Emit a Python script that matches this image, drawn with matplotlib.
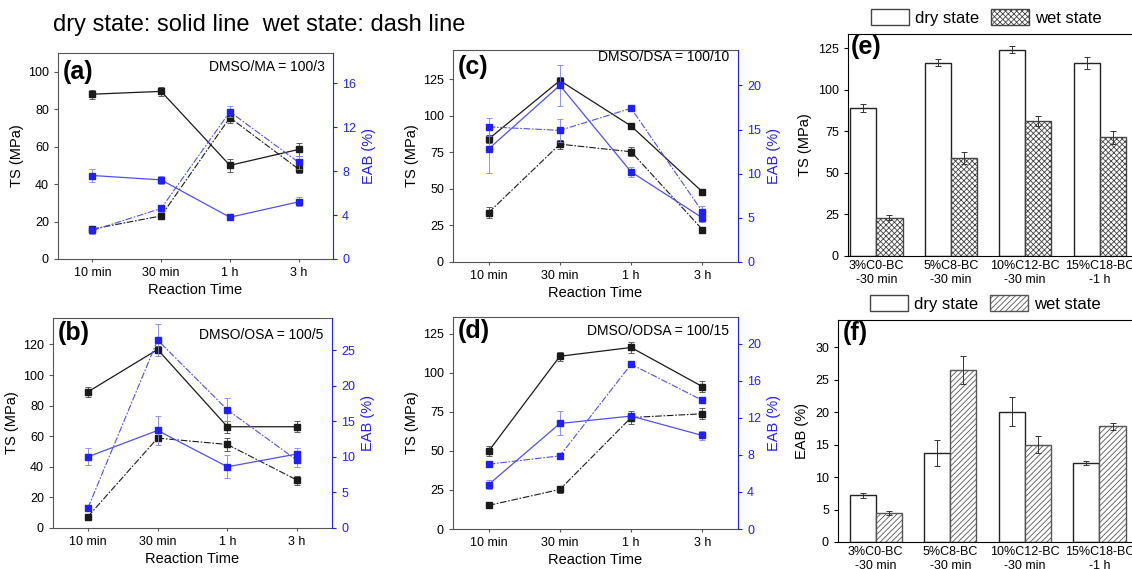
import numpy as np
import matplotlib
matplotlib.use('Agg')
import matplotlib.pyplot as plt
from matplotlib.patches import Patch

plt.rcParams['font.family'] = ['Liberation Sans', 'DejaVu Sans']
plt.rcParams['hatch.linewidth'] = 0.6

times = ['10 min', '30 min', '1 h', '3 h']

# (a) DMSO/MA = 100/3
a_ts_dry = [88, 89.5, 50, 58.5]
a_ts_dry_err = [2.5, 2.5, 3.5, 3.5]
a_ts_wet = [16, 23, 75.5, 48]
a_ts_wet_err = [1.5, 1.5, 3, 2]
a_eab_dry = [7.6, 7.2, 3.8, 5.2]
a_eab_dry_err = [0.6, 0.4, 0.2, 0.4]
a_eab_wet = [2.6, 4.6, 13.4, 8.8]
a_eab_wet_err = [0.3, 0.3, 0.5, 0.6]

# (b) DMSO/OSA = 100/5
b_ts_dry = [89, 116.7, 66.2, 66.2]
b_ts_dry_err = [3.5, 2, 4, 3.5]
b_ts_wet = [7.4, 58.8, 54.6, 31.3]
b_ts_wet_err = [1.5, 2, 4, 3]
b_eab_dry = [10.0, 13.7, 8.6, 10.4]
b_eab_dry_err = [1.2, 2, 1.6, 0.8]
b_eab_wet = [2.8, 26.4, 16.6, 9.5]
b_eab_wet_err = [0.3, 2.3, 1.6, 1]

# (c) DMSO/DSA = 100/10
c_ts_dry = [84.1, 124.1, 93, 48]
c_ts_dry_err = [2.5, 2.5, 1.5, 1.5]
c_ts_wet = [33.8, 80.6, 75.4, 22.2]
c_ts_wet_err = [4, 3, 3, 1.5]
c_eab_dry = [12.8, 20.0, 10.2, 5.0]
c_eab_dry_err = [2.7, 2.3, 0.6, 0.5]
c_eab_wet = [15.3, 14.9, 17.4, 5.7]
c_eab_wet_err = [1, 1.3, 0.3, 0.6]

# (d) DMSO/ODSA = 100/15
d_ts_dry = [49.8, 110.5, 116.1, 91.1]
d_ts_dry_err = [3, 3, 3.5, 3.5]
d_ts_wet = [15.1, 25.3, 71.3, 73.7]
d_ts_wet_err = [1.5, 2, 4, 3.5]
d_eab_dry = [4.8, 11.4, 12.2, 10.1]
d_eab_dry_err = [0.5, 1.3, 0.3, 0.5]
d_eab_wet = [7.0, 7.9, 17.8, 13.9]
d_eab_wet_err = [0.2, 0.2, 0.2, 0.3]

# (e), (f) bar charts
samples = ['3%C0-BC\n-30 min', '5%C8-BC\n-30 min', '10%C12-BC\n-30 min', '15%C18-BC\n-1 h']
e_ts_dry = [89.2, 116.5, 124.3, 116.1]
e_ts_dry_err = [2.5, 2, 2, 3.5]
e_ts_wet = [23.1, 59, 81.1, 71.5]
e_ts_wet_err = [1.5, 3.5, 3, 4]
f_eab_dry = [7.2, 13.7, 20.1, 12.2]
f_eab_dry_err = [0.4, 2, 2.2, 0.3]
f_eab_wet = [4.5, 26.5, 15.0, 17.8]
f_eab_wet_err = [0.3, 2.2, 1.3, 0.5]

W, H = 1132, 569
fig = plt.figure(figsize=(W / 100, H / 100), dpi=100)

BLACK = '#1a1a1a'
BLUE = '#2020ff'
BLUE_LINE = '#5050f0'
SPINE = '#555555'
DASH = (0, (6, 1.5, 1.5, 1.5))


def rect(l, t, r, b):
    return [l / W, 1 - b / H, (r - l) / W, (b - t) / H]


def line_panel(box, tag, note, ts, eab, ts_lim, ts_ticks, eab_lim, eab_ticks, tag_y, note_y):
    ax = fig.add_axes(box)
    x = np.arange(len(times))
    (td, tde), (tw, twe) = ts
    (ed, ede), (ew, ewe) = eab
    ax.errorbar(x, td, yerr=tde, color=BLACK, lw=0.9, marker='s', ms=4,
                ecolor='#444444', elinewidth=0.6, capsize=2, capthick=0.6)
    ax.errorbar(x, tw, yerr=twe, color=BLACK, lw=0.8, ls=DASH, marker='s', ms=4,
                ecolor='#444444', elinewidth=0.6, capsize=2, capthick=0.6)
    ax.set_xlim(-0.5, 3.5)
    ax.set_ylim(*ts_lim)
    ax.set_yticks(ts_ticks)
    ax.set_xticks(x)
    ax.set_xticklabels(times)
    ax.tick_params(labelsize=9, direction='out', length=3, color=SPINE)
    ax.tick_params(axis='x', length=2)
    ax.set_ylabel('TS (MPa)', fontsize=10.5, labelpad=3)
    ax.set_xlabel('Reaction Time', fontsize=10.5, labelpad=3)
    for s in ['left', 'bottom', 'top']:
        ax.spines[s].set_color(SPINE)
    ax.spines['right'].set_visible(False)

    ax2 = ax.twinx()
    ax2.errorbar(x, ed, yerr=ede, color=BLUE_LINE, lw=0.9, marker='s', ms=4, mfc=BLUE, mec=BLUE,
                 ecolor='#8080ff', elinewidth=0.6, capsize=2, capthick=0.6)
    ax2.errorbar(x, ew, yerr=ewe, color=BLUE_LINE, lw=0.8, ls=DASH, marker='s', ms=4, mfc=BLUE, mec=BLUE,
                 ecolor='#8080ff', elinewidth=0.6, capsize=2, capthick=0.6)
    ax2.set_ylim(*eab_lim)
    ax2.set_yticks(eab_ticks)
    ax2.tick_params(labelsize=9, direction='out', length=3, colors=BLUE)
    ax2.set_ylabel('EAB (%)', fontsize=10.5, color=BLUE, labelpad=4)
    ax2.spines['right'].set_color(BLUE)
    for s in ['left', 'bottom', 'top']:
        ax2.spines[s].set_visible(False)

    ax.text(0.018, tag_y, tag, transform=ax.transAxes, ha='left', va='top',
            fontsize=18, fontweight='bold')
    ax.text(0.97, note_y, note, transform=ax.transAxes, ha='right', va='center', fontsize=10)
    return ax


line_panel(rect(58, 53, 333, 259), '(a)', 'DMSO/MA = 100/3',
           [(a_ts_dry, a_ts_dry_err), (a_ts_wet, a_ts_wet_err)],
           [(a_eab_dry, a_eab_dry_err), (a_eab_wet, a_eab_wet_err)],
           (0, 110), range(0, 101, 20), (0, 18.75), range(0, 17, 4), 0.965, 0.93)

line_panel(rect(53, 318, 332, 528), '(b)', 'DMSO/OSA = 100/5',
           [(b_ts_dry, b_ts_dry_err), (b_ts_wet, b_ts_wet_err)],
           [(b_eab_dry, b_eab_dry_err), (b_eab_wet, b_eab_wet_err)],
           (0, 137.3), range(0, 121, 20), (0, 29.5), range(0, 26, 5), 0.985, 0.92)

line_panel(rect(453, 50, 738, 262), '(c)', 'DMSO/DSA = 100/10',
           [(c_ts_dry, c_ts_dry_err), (c_ts_wet, c_ts_wet_err)],
           [(c_eab_dry, c_eab_dry_err), (c_eab_wet, c_eab_wet_err)],
           (0, 145), range(0, 126, 25), (0, 24), range(0, 21, 5), 0.975, 0.965)

line_panel(rect(453, 317, 738, 529), '(d)', 'DMSO/ODSA = 100/15',
           [(d_ts_dry, d_ts_dry_err), (d_ts_wet, d_ts_wet_err)],
           [(d_eab_dry, d_eab_dry_err), (d_eab_wet, d_eab_wet_err)],
           (0, 135.6), range(0, 126, 25), (0, 22.9), range(0, 21, 4), 0.99, 0.935)


def bar_panel(box, tag, dry, dry_err, wet, wet_err, ylabel, ylim, ticks, xlim, wet_style, leg_x, tag_x):
    ax = fig.add_axes(box)
    x = np.arange(len(samples))
    w = 0.35
    ax.bar(x - w / 2, dry, w, yerr=dry_err, color='white', edgecolor='#222222', lw=1,
           error_kw=dict(ecolor='#333333', elinewidth=0.7, capsize=2, capthick=0.7))
    ax.bar(x + w / 2, wet, w, yerr=wet_err, color='white', edgecolor=wet_style[1],
           hatch=wet_style[0], lw=1,
           error_kw=dict(ecolor='#333333', elinewidth=0.7, capsize=2, capthick=0.7))
    ax.set_xlim(*xlim)
    ax.set_ylim(*ylim)
    ax.set_yticks(ticks)
    ax.set_xticks(x)
    ax.set_xticklabels(samples, linespacing=1.25)
    ax.tick_params(labelsize=9, direction='out', length=3)
    ax.tick_params(axis='x', length=0, pad=3)
    ax.set_ylabel(ylabel, fontsize=10.5, labelpad=4)
    ax.text(tag_x, 0.995, tag, transform=ax.transAxes, ha='left', va='top',
            fontsize=18, fontweight='bold')
    handles = [Patch(facecolor='white', edgecolor='#444444', lw=1),
               Patch(facecolor='white', edgecolor=wet_style[1], hatch=wet_style[0], lw=1)]
    ax.legend(handles, ['dry state', 'wet state'], loc='lower center', bbox_to_anchor=(leg_x, 1.0),
              ncol=2, frameon=False, fontsize=12, handlelength=2.3, handleheight=1.1,
              handletextpad=0.35, columnspacing=0.7, borderaxespad=0.1)
    return ax


bar_panel(rect(848, 34, 1136, 256), '(e)', e_ts_dry, e_ts_dry_err, e_ts_wet, e_ts_wet_err,
          'TS (MPa)', (0, 133.7), range(0, 126, 25), (-0.383, 3.49), ('xxxxxx', '#444444'), 0.48, 0.008)
bar_panel(rect(838, 320, 1136, 542), '(f)', f_eab_dry, f_eab_dry_err, f_eab_wet, f_eab_wet_err,
          'EAB (%)', (0, 34.2), range(0, 31, 5), (-0.507, 3.49), ('//////', '#555555'), 0.495, 0.017)

fig.text(53 / W, 1 - 25 / H, 'dry state: solid line  wet state: dash line', fontsize=17,
         ha='left', va='center')

fig.savefig('out.png', dpi=100, facecolor='white')
